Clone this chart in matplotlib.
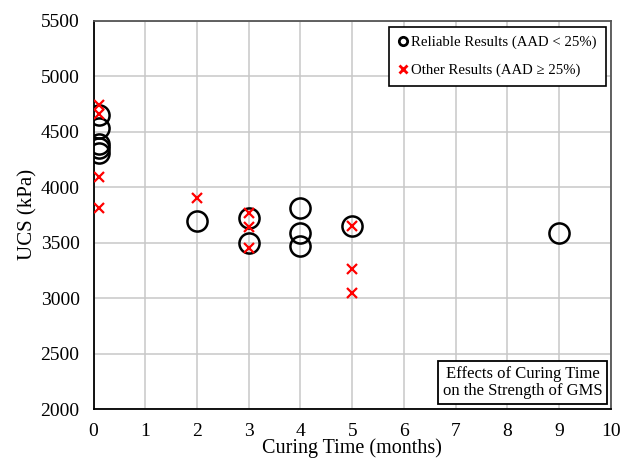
import matplotlib
matplotlib.use("Agg")
import matplotlib.pyplot as plt
from matplotlib.lines import Line2D

plt.rcParams['font.family'] = ['Liberation Serif', 'DejaVu Serif']

# reliable results (AAD < 25%)
rel_time = [0.1, 0.1, 0.1, 0.1, 0.1, 2, 3, 3, 4, 4, 4, 5, 9]
rel_ucs = [4650, 4530, 4390, 4350, 4310, 3695, 3725, 3495, 3815, 3590, 3470, 3650, 3590]

# other results (AAD >= 25%)
oth_time = [0.1, 0.1, 0.1, 0.1, 2, 3, 3, 3, 5, 5, 5]
oth_ucs = [4740, 4655, 4090, 3815, 3905, 3765, 3645, 3450, 3650, 3265, 3050]

xticks = list(range(0, 11))
yticks = list(range(2000, 5501, 500))

fig = plt.figure(figsize=(6.28, 4.59), dpi=100)
ax = fig.add_axes([0.1489, 0.1089, 0.824, 0.846])

ax.plot(rel_time, rel_ucs, 'o', ms=14.5, mfc='none', mec='black', mew=1.8, zorder=3)
ax.plot(oth_time, oth_ucs, 'x', ms=7.5, color='#ff0000', mew=1.6, zorder=4)

ax.set_xlim(0, 10)
ax.set_ylim(2000, 5500)
ax.set_xticks(xticks)
ax.set_yticks(yticks)
ax.grid(True, color='#c8c8c8', lw=1.1)
ax.set_axisbelow(True)
ax.tick_params(length=0, labelsize=14)
ax.tick_params(axis='x', pad=10)
ax.tick_params(axis='y', pad=10)

for s in ['left', 'bottom']:
    ax.spines[s].set_color('black')
    ax.spines[s].set_linewidth(1.3)
for s in ['top', 'right']:
    ax.spines[s].set_color('#555555')
    ax.spines[s].set_linewidth(1.3)

ax.set_xlabel('Curing Time (months)', fontsize=14.5, labelpad=-1)
ax.set_ylabel('UCS (kPa)', fontsize=15, labelpad=2)

handles = [
    Line2D([], [], marker='o', ls='none', ms=6, mfc='none', mec='black', mew=2),
    Line2D([], [], marker='x', ls='none', ms=6, color='#ff0000', mew=2),
]
leg = ax.legend(handles, ['Reliable Results (AAD < 25%)', 'Other Results (AAD ≥ 25%)'],
                loc='upper right', bbox_to_anchor=(0.99, 0.985), fontsize=10.6,
                frameon=True, fancybox=False, edgecolor='black', framealpha=1,
                handlelength=0.6, handletextpad=0.3, labelspacing=1.0,
                borderpad=0.6, borderaxespad=0)
leg.get_frame().set_linewidth(1.2)

ax.text(0.9835, 0.025, 'Effects of Curing Time\non the Strength of GMS',
        transform=ax.transAxes, ha='right', va='bottom', fontsize=12,
        linespacing=1.1, multialignment='center',
        bbox=dict(boxstyle='square,pad=0.3', fc='white', ec='black', lw=1.3))

fig.savefig('out.png', dpi=100)
